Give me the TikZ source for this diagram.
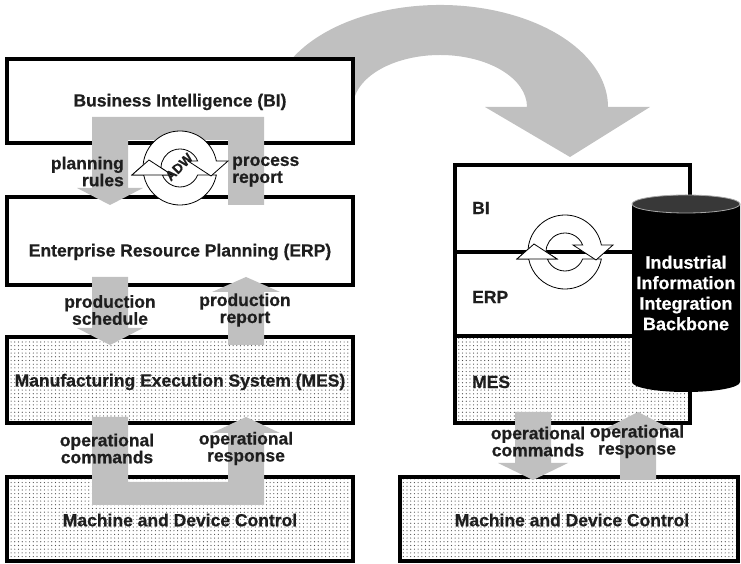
\documentclass[tikz,border=0pt]{standalone}
\usepackage{fontspec}
\setmainfont{Liberation Sans}[BoldFeatures={FakeBold=0.6}]
\usetikzlibrary{patterns.meta}

\definecolor{barfill}{HTML}{C0C0C0}
\definecolor{inkgray}{HTML}{1E1E1E}

\tikzset{
  layerbox/.style={draw=black, line width=4.5pt, fill=white, inner sep=0pt},
  dotbox/.style={layerbox, preaction={fill=white},
    pattern={Dots[distance=3.7pt, radius=0.6pt]}, pattern color=black!70},
  graybar/.style={fill=barfill, draw=none},
  lbl/.style={font=\bfseries\fontsize{17.5}{17}\selectfont, text=inkgray,
    inner sep=0pt, align=center},
  cycline/.style={draw=black, fill=white, line width=0.8pt}
}

% two-band cycle symbol, centred on #1
\newcommand{\cycleicon}[1]{%
  \begin{scope}[shift={#1}]
    \filldraw[cycline] (36.34,-7) arc[start angle=-10.9, end angle=-169.1, radius=37]
      -- (-48,-7) -- (-31,8) -- (-8,-7) -- (-17.66,-7)
      arc[start angle=201.6, end angle=338.4, radius=19] -- cycle;
    \filldraw[cycline] (-37,0) arc[start angle=180, end angle=10.9, radius=37]
      -- (48,7) -- (31,-8) -- (8,7) -- (17.66,7)
      arc[start angle=21.6, end angle=180, radius=19] -- cycle;
    \filldraw[cycline] (-48,-7) -- (-31,8) -- (-8,-7) -- cycle;
  \end{scope}}

\begin{document}
\begin{tikzpicture}[x=1pt,y=1pt]
\useasboundingbox (0,0) rectangle (741,564);

% transition arrow
\fill[barfill] (287.74,500.11) arc[start angle=155, end angle=0, x radius=168, y radius=102]
  -- (650,457) -- (570,407) -- (485,457) -- (527,457)
  arc[start angle=0, end angle=185, x radius=87, y radius=52] -- cycle;

% left: layered model
\node[layerbox, minimum width=346pt, minimum height=84pt] (bi) at (180,463) {};
\node[layerbox, minimum width=346pt, minimum height=88pt] (erp) at (180,323) {};
\node[dotbox, minimum width=346pt, minimum height=86pt] (mes) at (180,184) {};
\node[dotbox, minimum width=346pt, minimum height=84pt] (mdc) at (180,45) {};

\node[lbl] (bitext) at (180,462) {Business Intelligence (BI)};
\node[lbl] (erptext) at (180,312) {Enterprise Resource Planning (ERP)};
\node[lbl] (mestext) at (180,182) {Manufacturing Execution System (MES)};
\node[lbl] (mdctext) at (180,44) {Machine and Device Control};

\fill[graybar] (228,359) -- (264,359) -- (264,447) -- (92,447) -- (92,376) -- (77,376)
  -- (110,359) -- (143,376) -- (128,376) -- (128,424) -- (228,424) -- cycle;
\fill[graybar] (92,287) -- (128,287) -- (128,236) -- (143,236) -- (110,219) -- (77,236)
  -- (92,236) -- cycle;
\fill[graybar] (228,219) -- (264,219) -- (264,272) -- (280,272) -- (246,287) -- (212,272)
  -- (228,272) -- cycle;
\fill[graybar] (92,147) -- (92,59) -- (264,59) -- (264,131) -- (280,131) -- (246,147)
  -- (212,131) -- (228,131) -- (228,82) -- (128,82) -- (128,147) -- cycle;

\node[lbl, anchor=east, align=right] (plan) at (124,392.5) {planning\\rules};
\node[lbl, anchor=west, align=left] (proc) at (232,392.5) {process\\report};
\node[lbl] (sched) at (110,254) {production\\schedule};
\node[lbl] (prep) at (245,254) {production\\report};
\node[lbl] (cmd) at (107,115.5) {operational\\commands};
\node[lbl] (resp) at (246,115.5) {operational\\response};

\cycleicon{(180,396)}
\node[lbl, rotate=45, font=\bfseries\fontsize{13.5}{13.5}\selectfont] (adw) at (179,397) {ADW};

% right: integrated model
\node[layerbox, minimum width=235pt, minimum height=87pt] (rbi) at (572.5,355.5) {};
\node[layerbox, minimum width=235pt, minimum height=84pt] (rerp) at (572.5,270) {};
\node[dotbox, minimum width=235pt, minimum height=87pt] (rmes) at (572.5,184.5) {};
\node[lbl, anchor=west] (rbitext) at (472,356) {BI};
\node[lbl, anchor=west] (rerptext) at (472,267) {ERP};
\node[lbl, anchor=west] (rmestext) at (472,182) {MES};

\cycleicon{(565,312)}

\fill[black] (632,360) -- (632,182) arc[start angle=180, end angle=360, x radius=54, y radius=10]
  -- (740,360) -- cycle;
\filldraw[fill=black!78, draw=black!35, line width=0.8pt] (686,360) ellipse[x radius=54, y radius=9];
\node[lbl, text=white, font=\bfseries\fontsize{18}{20.5}\selectfont] (iiib) at (686,271)
  {Industrial\\Information\\Integration\\Backbone};

\node[dotbox, minimum width=338pt, minimum height=84pt] (rmdc) at (569,45) {};
\node[lbl] (rmdctext) at (572,44) {Machine and Device Control};

\fill[graybar] (515,152) -- (551,152) -- (551,101) -- (568,101) -- (533,84) -- (498,101)
  -- (515,101) -- cycle;
\fill[graybar] (620,84) -- (656,84) -- (656,134) -- (673,134) -- (638,152) -- (603,134)
  -- (620,134) -- cycle;
\node[lbl] (rcmd) at (538,122.5) {operational\\commands};
\node[lbl] (rresp) at (637,122.5) {operational\\response};
\end{tikzpicture}
\end{document}
